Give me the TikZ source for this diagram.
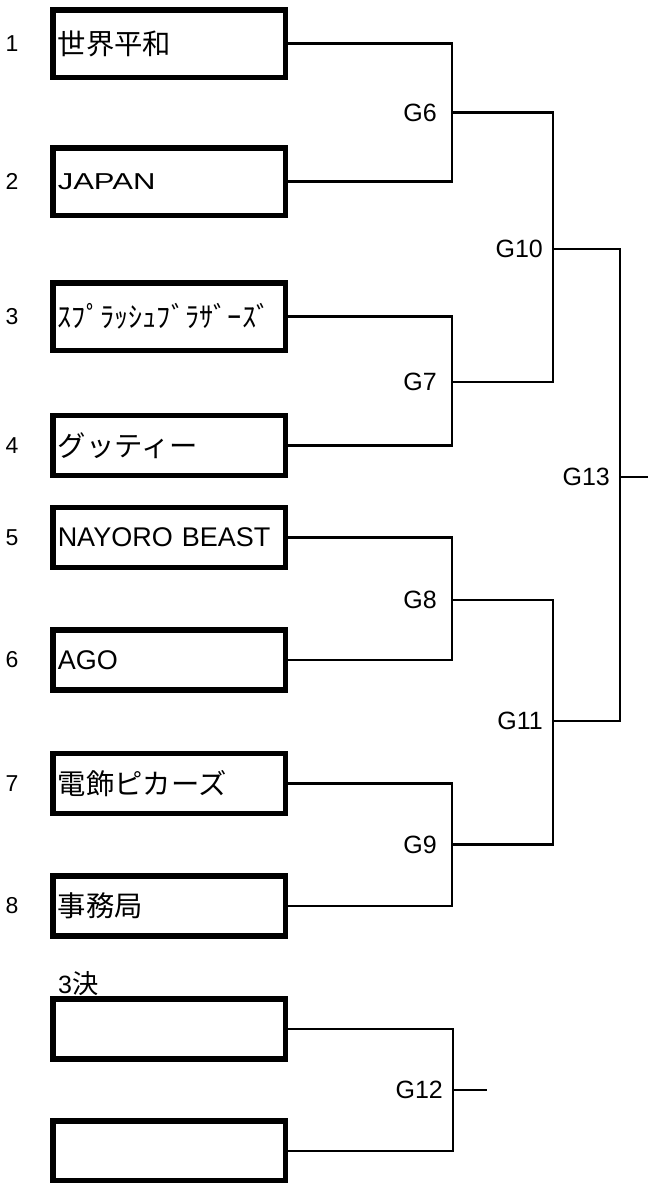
\documentclass[tikz,border=0pt]{standalone}
\usepackage{fontspec}
\setmainfont{Liberation Sans}
\newfontfamily\jp[Scale=1.05]{Noto Sans CJK JP}
\newfontfamily\widesans[FakeStretch=1.35]{Liberation Sans}
\usetikzlibrary{positioning}

\begin{document}
\begin{tikzpicture}[x=1pt, y=-1pt,
        % Team entry boxes
        team/.style={draw, line width=5.5pt, minimum height=60pt, inner xsep=5pt, inner ysep=0pt, text width=222.5pt, align=left, font=\fontsize{27}{30}\selectfont},
        tall/.style={minimum height=67.5pt},
        % Seed numbers and game labels
        seed/.style={font=\fontsize{23}{25}\selectfont, inner sep=0pt},
        glabel/.style={font=\fontsize{25}{27}\selectfont, inner sep=0pt},
        % Bracket lines
        bracket/.style={line width=2.2pt}
    ]

    \useasboundingbox (0,0) rectangle (648,1183);

    % Team boxes
    \node[team, tall] (t1) at (169, 43.5) {\jp 世界平和};
    \node[team, tall] (t2) at (169, 181.5) {\widesans\fontsize{23}{25}\selectfont JAPAN};
    \node[team, tall] (t3) at (169, 316.5) {\jp ｽﾌﾟﾗｯｼｭﾌﾞﾗｻﾞｰｽﾞ};
    \node[team] (t4) at (169, 445.5) {\jp グッティー};
    \node[team] (t5) at (169, 537.5) {NAYORO BEAST};
    \node[team] (t6) at (169, 660) {AGO};
    \node[team] (t7) at (169, 783.5) {\jp 電飾ピカーズ};
    \node[team] (t8) at (169, 906) {\jp 事務局};
    \node[team] (t9) at (169, 1029) {};
    \node[team] (t10) at (169, 1151) {};

    % Seed numbers
    \node[seed] (n1) at (12, 43.5) {1};
    \node[seed] (n2) at (12, 181.5) {2};
    \node[seed] (n3) at (12, 316.5) {3};
    \node[seed] (n4) at (12, 445.5) {4};
    \node[seed] (n5) at (12, 537.5) {5};
    \node[seed] (n6) at (12, 660) {6};
    \node[seed] (n7) at (12, 783.5) {7};
    \node[seed] (n8) at (12, 906) {8};

    % Third place match title
    \node[anchor=base west, inner sep=0pt, font=\fontsize{25}{27}\selectfont] (third) at (58, 993) {3{\jp 決}};

    % Game joints
    \coordinate (g6) at (452, 112.5);
    \coordinate (g7) at (452, 382);
    \coordinate (g8) at (452, 600);
    \coordinate (g9) at (452, 844.5);
    \coordinate (g10) at (553, 249);
    \coordinate (g11) at (553, 721);
    \coordinate (g13) at (620, 477);
    \coordinate (g12) at (453, 1090);
    \coordinate (champ) at (648, 477);
    \coordinate (bronze) at (487, 1090);

    % First round
    \draw[bracket] (t1.east) -| (g6) |- (t2.east);
    \draw[bracket] (t3.east) -| (g7) |- (t4.east);
    \draw[bracket] (t5.east) -| (g8) |- (t6.east);
    \draw[bracket] (t7.east) -| (g9) |- (t8.east);

    % Semi finals
    \draw[bracket] (g6) -| (g10) |- (g7);
    \draw[bracket] (g8) -| (g11) |- (g9);

    % Final
    \draw[bracket] (g10) -| (g13) |- (g11);
    \draw[bracket] (g13) -- (champ);

    % Third place
    \draw[bracket] (t9.east) -| (g12) |- (t10.east);
    \draw[bracket] (g12) -- (bronze);

    % Game labels
    \node[glabel, left=15pt of g6] (l6) {G6};
    \node[glabel, left=15pt of g7] (l7) {G7};
    \node[glabel, left=15pt of g8] (l8) {G8};
    \node[glabel, left=15pt of g9] (l9) {G9};
    \node[glabel, left=10pt of g10] (l10) {G10};
    \node[glabel, left=10pt of g11] (l11) {G11};
    \node[glabel, left=10pt of g13] (l13) {G13};
    \node[glabel, left=10pt of g12] (l12) {G12};

\end{tikzpicture}
\end{document}
